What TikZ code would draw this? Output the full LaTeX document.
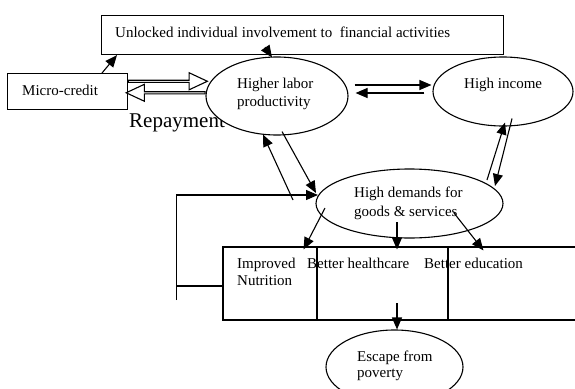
\documentclass[tikz,border=0pt]{standalone}
\usepackage{fontspec}
\setmainfont{Liberation Serif}
\usetikzlibrary{arrows.meta,shapes.geometric,shapes.arrows,calc}

% two left-aligned lines whose anchor is the first baseline
\newcommand\linepair[3]{{\fontsize{15}{#3}\selectfont\begin{tabular}[t]{@{}l@{}}#1\\#2\end{tabular}}}

\begin{document}
\begin{tikzpicture}[x=1pt,y=-1pt,
  box/.style={draw, line width=1.1pt, rectangle, inner sep=0pt},
  oval/.style={draw, line width=1.1pt, ellipse, inner sep=0pt, fill=white},
  lbl/.style={font=\fontsize{15}{18}\selectfont, inner sep=0pt, anchor=base west},
  plain/.style={line width=1.1pt},
  link/.style={line width=1.1pt, -{Triangle[length=12pt,width=10pt]}},
  hollow/.style={draw, line width=1.1pt, single arrow, fill=white, inner sep=0pt,
    minimum width=17pt, minimum height=79pt, single arrow head extend=4pt,
    single arrow tip angle=50}
]
\useasboundingbox (0,0) rectangle (575,388);
\clip (0,0) rectangle (575,388);

% boxes
\node[box, minimum width=402, minimum height=39, anchor=north west] (top) at (101,15) {};
\node[lbl] (toptxt) at (115,37) {Unlocked individual involvement to \ financial activities};

\node[box, minimum width=120, minimum height=36, anchor=north west] (mc) at (7,73) {};
\node[lbl] (mctxt) at (22,95) {Micro-credit};

% label partly hidden behind the productivity oval
\node[font=\fontsize{21}{24}\selectfont, inner sep=0pt, anchor=base west] (rep) at (129,127) {Repayment};

% ovals
\node[oval, minimum width=142, minimum height=78] (hl) at (277,96) {};
\node[lbl] (hltxt) at (237,88) {\linepair{Higher labor}{productivity}{18}};

\node[oval, minimum width=140, minimum height=69] (hi) at (503,91.5) {};
\node[lbl] (hitxt) at (464,88) {High income};

\node[oval, minimum width=187, minimum height=69] (hd) at (409.5,203.5) {};
\node[lbl] (hdtxt) at (354,197) {\linepair{High demands for}{goods \& services}{19}};

\node[oval, minimum width=137, minimum height=74] (esc) at (394.5,367) {};
\node[lbl] (esctxt) at (357,361) {\linepair{Escape from}{poverty}{16.5}};

% outcome cells
\node[box, minimum width=94, minimum height=73] (c1) at (270,283.5) {};
\node[box, minimum width=131, minimum height=73] (c2) at (382.5,283.5) {};
\node[box, minimum width=152, minimum height=73] (c3) at (524,283.5) {};
\node[lbl] (c1txt) at (237,268) {\linepair{Improved}{Nutrition}{17}};
\node[lbl] (c2txt) at (307,268) {Better healthcare};
\node[lbl] (c3txt) at (424,268) {Better education};

% credit and repayment flows
\node[hollow] (credit) at ($($(mc.east)!0.5!(hl.west)$)+(0,-12.5)$) {};
\node[hollow, shape border rotate=180] (repay) at ($($(mc.east)!0.5!(hl.west)$)+(0,-1)$) {};

% connectors
\draw[link] ($(mc.north west)+(95,0)$) -- ($(top.south west)+(16,0)$);
\draw[link] ($(top.south west)+(164,-8)$) -- ($(hl.north)+(-5,1)$);
\draw[link] ($(hl.east)+(6,-11)$) -- ($(hi.west)+(-1,-6.5)$);
\draw[link] ($(hi.west)+(-8,1.5)$) -- ($(hl.east)+(7,-3)$);
\draw[link] ($(hd.center)+(77.5,-23.5)$) -- ($(hi.south)+(2,-4)$);
\draw[link] ($(hi.south)+(9,-8)$) -- ($(hd.center)+(85.5,-17.5)$);
\draw[link] ($(hl.south)+(5,-4)$) -- ($(hd.center)+(-93.5,-10.5)$);
\draw[link] ($(hd.center)+(-116.5,-3.5)$) -- ($(hl.south)+(-14,-1)$);

% feedback from the outcomes back to demand
\draw[plain] ($(c1.west)+(0,2.5)$) -- ++(-46,0);
\draw[link] ($(c1.west)+(-46,16.5)$) |- ($(hd.center)+(-91.5,-8.5)$);

\draw[link] ($(hd.center)+(-84.5,4.5)$) -- ($(c1.north east)+(-14,3)$);
\draw[link] ($(hd.center)+(-12.5,18.5)$) -- ($(c2.north)+(14.5,3)$);
\draw[link] ($(hd.center)+(44.5,9.5)$) -- ($(c3.north west)+(36,4)$);
\draw[link] ($(c2.north)+(14.5,57)$) -- ($(esc.north)+(2.5,0)$);
\end{tikzpicture}
\end{document}
